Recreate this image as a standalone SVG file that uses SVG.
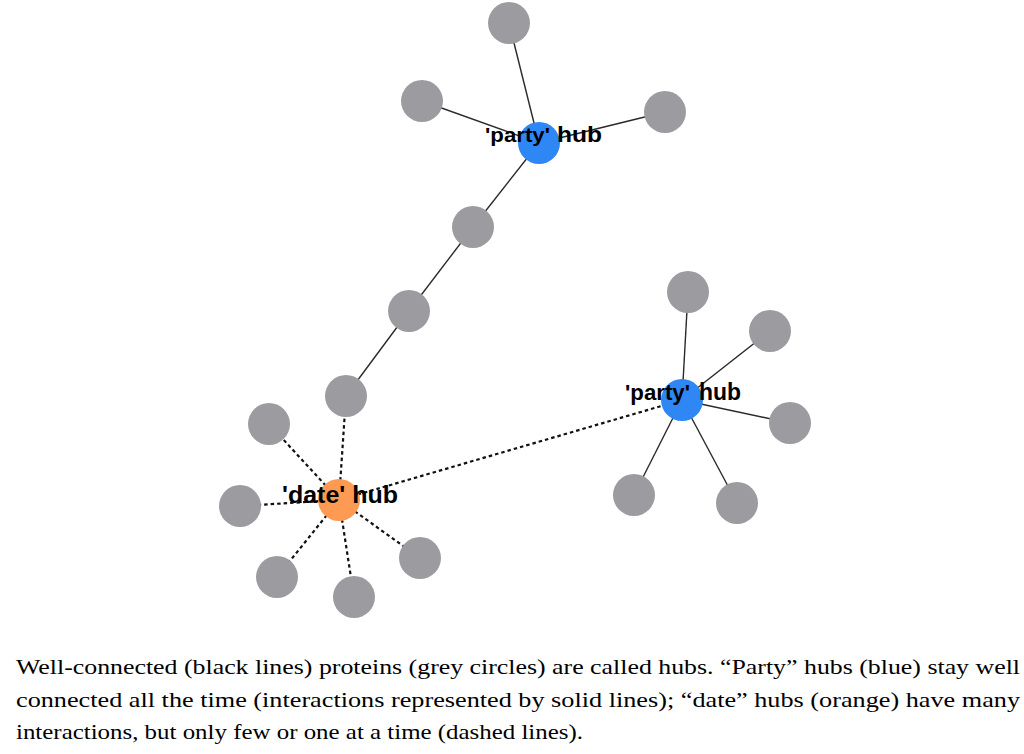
<svg xmlns="http://www.w3.org/2000/svg" width="1024" height="754" viewBox="0 0 1024 754">
<style>
.p{fill:#9c9b9f}
.blue{fill:#2f86f5}
.orange{fill:#ff9a52}
.s{stroke:#2a2a2a;stroke-width:1.4;fill:none}
.d{stroke:#111;stroke-width:2.2;stroke-dasharray:3.5 3;fill:none}
.lbl{font-family:"Liberation Sans",Arial,sans-serif;font-weight:bold;fill:#000}
.cap{font-family:"Liberation Serif","Times New Roman",serif;font-size:22px;fill:#000}
</style>
<rect width="1024" height="754" fill="#fff"/>
<g id="connectors">
<line class="s" x1="539" y1="143" x2="509" y2="23"/>
<line class="s" x1="539" y1="143" x2="422" y2="101"/>
<line class="s" x1="539" y1="143" x2="665" y2="112"/>
<line class="s" x1="539" y1="143" x2="473" y2="227"/>
<line class="s" x1="473" y1="227" x2="409" y2="311"/>
<line class="s" x1="409" y1="311" x2="346" y2="396"/>
<line class="d" x1="339" y1="500" x2="346" y2="396"/>
<line class="d" x1="339" y1="500" x2="269" y2="424"/>
<line class="d" x1="339" y1="500" x2="240" y2="506"/>
<line class="d" x1="339" y1="500" x2="277" y2="577"/>
<line class="d" x1="339" y1="500" x2="354" y2="597"/>
<line class="d" x1="339" y1="500" x2="420" y2="558"/>
<line class="d" x1="339" y1="500" x2="682" y2="400"/>
<line class="s" x1="682" y1="400" x2="688" y2="292"/>
<line class="s" x1="682" y1="400" x2="770" y2="331"/>
<line class="s" x1="682" y1="400" x2="790" y2="423"/>
<line class="s" x1="682" y1="400" x2="737" y2="503"/>
<line class="s" x1="682" y1="400" x2="634" y2="495"/>
</g>
<g id="n_t1"><circle class="p" cx="509" cy="23" r="21"/></g>
<g id="n_t2"><circle class="p" cx="422" cy="101" r="21"/></g>
<g id="n_t3"><circle class="p" cx="665" cy="112" r="21"/></g>
<g id="n_c1"><circle class="p" cx="473" cy="227" r="21"/></g>
<g id="n_c2"><circle class="p" cx="409" cy="311" r="21"/></g>
<g id="n_c3"><circle class="p" cx="346" cy="396" r="21"/></g>
<g id="n_d1"><circle class="p" cx="269" cy="424" r="21"/></g>
<g id="n_d2"><circle class="p" cx="240" cy="506" r="21"/></g>
<g id="n_d3"><circle class="p" cx="277" cy="577" r="21"/></g>
<g id="n_d4"><circle class="p" cx="354" cy="597" r="21"/></g>
<g id="n_d5"><circle class="p" cx="420" cy="558" r="21"/></g>
<g id="n_r1"><circle class="p" cx="688" cy="292" r="21"/></g>
<g id="n_r2"><circle class="p" cx="770" cy="331" r="21"/></g>
<g id="n_r3"><circle class="p" cx="790" cy="423" r="21"/></g>
<g id="n_r4"><circle class="p" cx="737" cy="503" r="21"/></g>
<g id="n_r5"><circle class="p" cx="634" cy="495" r="21"/></g>
<g id="hub_party_top">
<circle class="blue" cx="539" cy="143" r="21"/>
<text class="lbl" x="485" y="142" font-size="20" textLength="65" lengthAdjust="spacingAndGlyphs">'party'</text>
<text class="lbl" x="557" y="142" font-size="22" textLength="45" lengthAdjust="spacingAndGlyphs">hub</text>
</g>
<g id="hub_party_right">
<circle class="blue" cx="682" cy="400" r="21"/>
<text class="lbl" x="625" y="400" font-size="22" textLength="65" lengthAdjust="spacingAndGlyphs">'party'</text>
<text class="lbl" x="699" y="400" font-size="23" textLength="42" lengthAdjust="spacingAndGlyphs">hub</text>
</g>
<g id="hub_date">
<circle class="orange" cx="339" cy="500" r="21"/>
<text class="lbl" x="282" y="503" font-size="23" textLength="116" lengthAdjust="spacingAndGlyphs">'date' hub</text>
</g>
<g id="caption">
<text class="cap" x="16" y="674" textLength="1004" lengthAdjust="spacingAndGlyphs">Well-connected (black lines) proteins (grey circles) are called hubs. “Party” hubs (blue) stay well</text>
<text class="cap" x="16" y="707" textLength="1004" lengthAdjust="spacingAndGlyphs">connected all the time (interactions represented by solid lines); “date” hubs (orange) have many</text>
<text class="cap" x="16" y="739" textLength="567" lengthAdjust="spacingAndGlyphs">interactions, but only few or one at a time (dashed lines).</text>
</g>
</svg>
